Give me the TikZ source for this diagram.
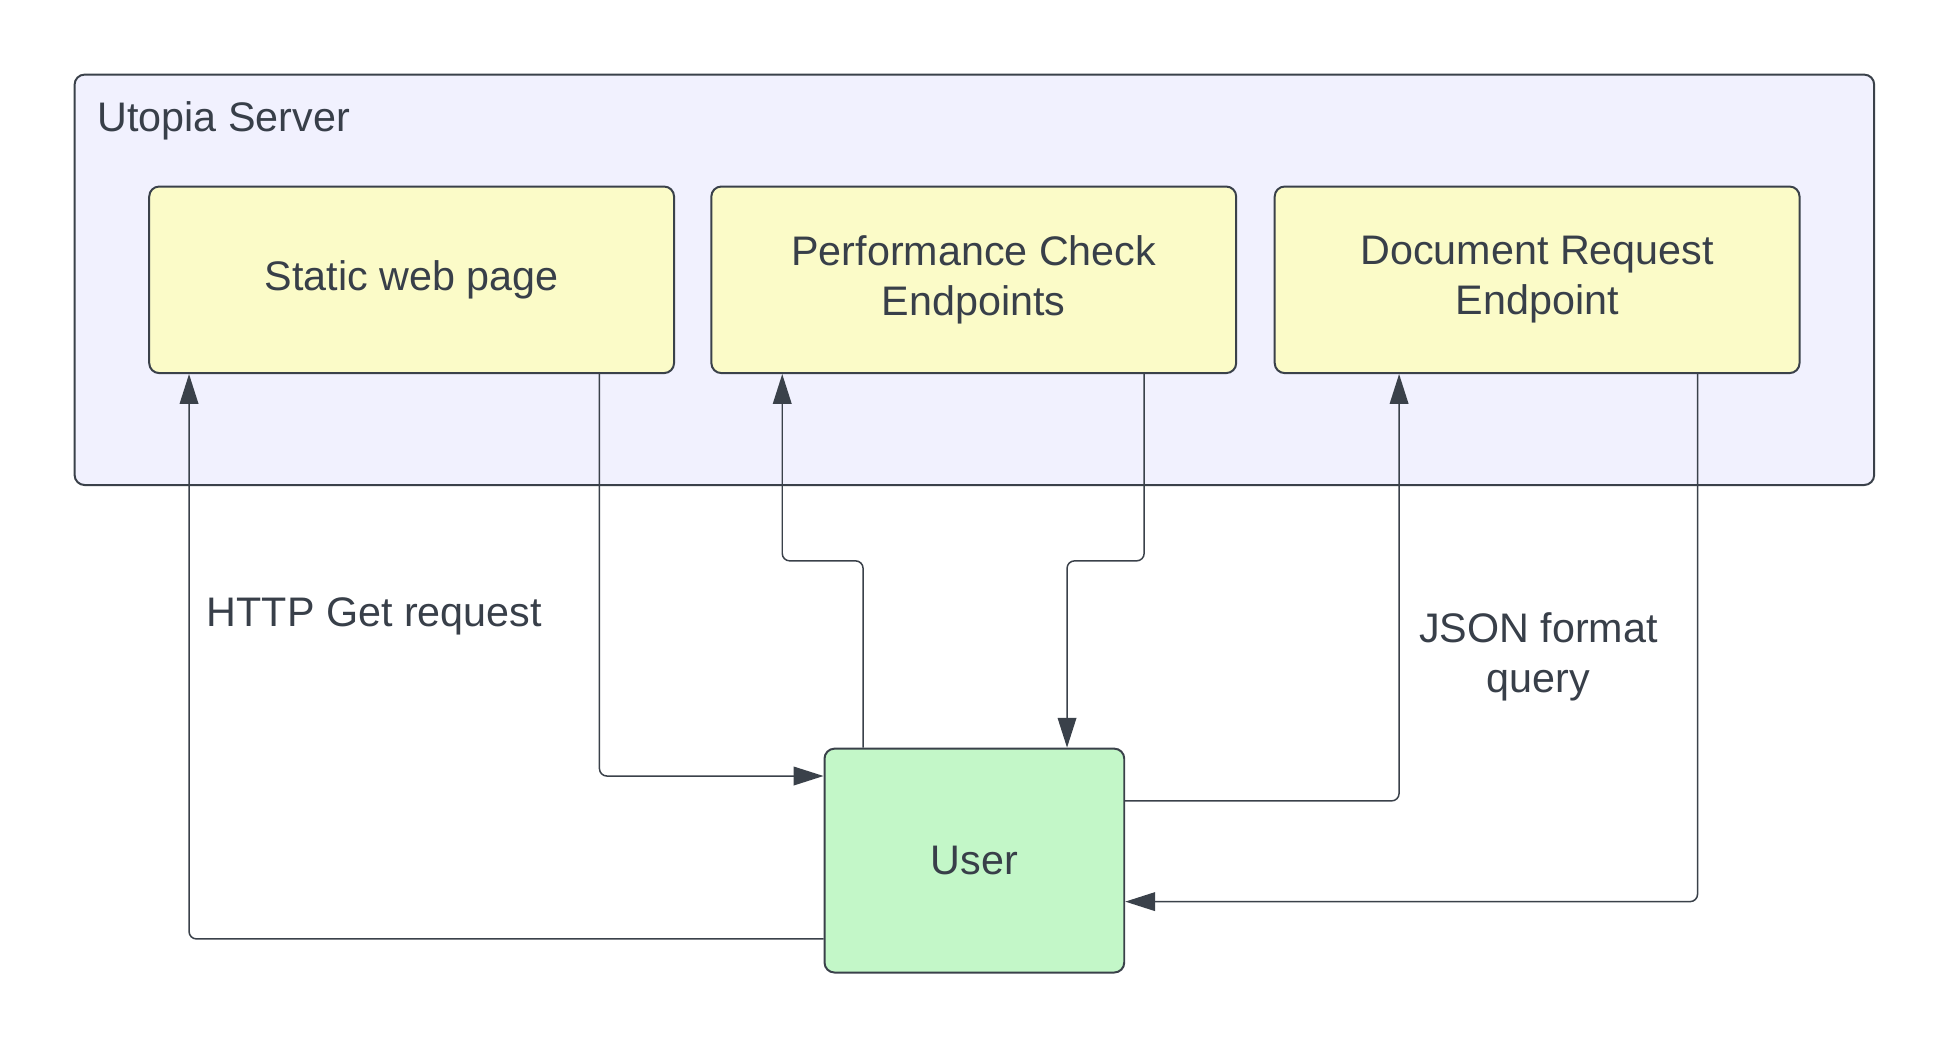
\documentclass[tikz,border=0pt]{standalone}
\usepackage{fontspec}
\setmainfont{Liberation Sans}
\usetikzlibrary{arrows.meta}
\definecolor{inkgray}{RGB}{58,65,74}
\definecolor{textgray}{RGB}{56,63,73}
\definecolor{serverfill}{RGB}{241,241,254}
\definecolor{endpointfill}{RGB}{251,251,200}
\definecolor{userfill}{RGB}{195,247,200}
\begin{document}
\begin{tikzpicture}[x=0.5pt,y=0.5pt,yscale=-1,xscale=1,
  box/.style={draw=inkgray,line width=0.8pt,rounded corners=4pt,inner sep=0pt,align=center,text=textgray,font=\fontsize{16.6}{20}\selectfont},
  endpoint/.style={box,fill=endpointfill,minimum width=211pt,minimum height=75pt},
  label/.style={inner sep=0pt,align=center,text=textgray,font=\fontsize{16.6}{20}\selectfont},
  conn/.style={draw=inkgray,line width=0.6pt,rounded corners=3pt,-{Triangle[length=12pt,width=7.5pt]}}]
\useasboundingbox (0,0) rectangle (1568,844);

% Server frame
\node [box,fill=serverfill,minimum width=723.5pt,minimum height=165pt] (server) at (783.5,225) {};
\node [label,anchor=west] (servertitle) at (78,97) {Utopia Server};

% Endpoints
\node [endpoint] (static) at (331,225) {Static web page};
\node [endpoint] (perf) at (783,225) {Performance Check\\Endpoints};
\node [endpoint] (doc) at (1236,225) {Document Request\\Endpoint};

% User
\node [box,fill=userfill,minimum width=120.5pt,minimum height=90pt] (user) at (783.5,692) {User};

% Connectors
\draw [conn] (user.west |- 0,755) -| (static.south -| 152,0);
\draw [conn] (static.south -| 482,0) |- (user.west |- 0,624);
\draw [conn] (user.north -| 694,0) |- (629,451) -- (perf.south -| 629,0);
\draw [conn] (perf.south -| 920,0) |- (858,451) -- (user.north -| 858,0);
\draw [conn] (user.east |- 0,644) -| (doc.south -| 1125,0);
\draw [conn] (doc.south -| 1365,0) |- (user.east |- 0,725);

% Text Node
\node [label,anchor=west] (httplabel) at (166,496) {HTTP Get request};
% Text Node
\node [label] (jsonlabel) at (1237,528) {JSON format\\query};

\end{tikzpicture}
\end{document}
